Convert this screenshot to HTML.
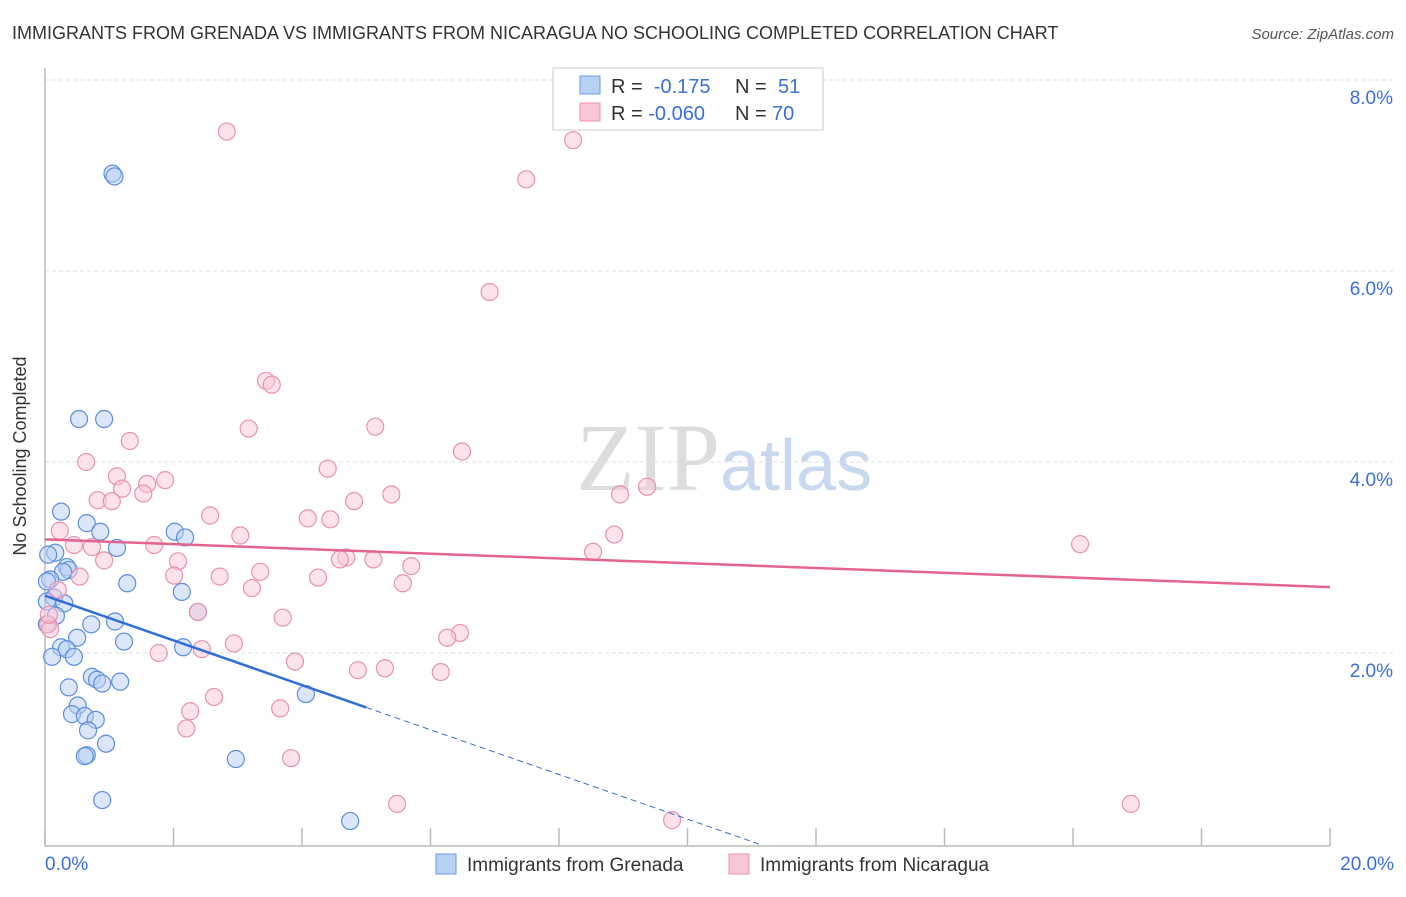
<!DOCTYPE html>
<html><head><meta charset="utf-8"><style>
body{margin:0;background:#fff;font-family:"Liberation Sans",sans-serif;}
</style></head><body>
<svg width="1406" height="892" xmlns="http://www.w3.org/2000/svg">
<text x="12" y="39" font-size="18" fill="#333">IMMIGRANTS FROM GRENADA VS IMMIGRANTS FROM NICARAGUA NO SCHOOLING COMPLETED CORRELATION CHART</text>
<text x="1394" y="39" font-size="15" fill="#555" font-style="italic" text-anchor="end">Source: ZipAtlas.com</text>
<text x="720" y="490" font-size="96" fill="#ddd" font-family="Liberation Serif,serif" text-anchor="end">ZIP</text>
<text x="720" y="490" font-size="72" fill="#c8d8ef">atlas</text>
<g id="grid"></g>
<line x1="45" y1="68" x2="45" y2="846" stroke="#bbb" stroke-width="1.5"/>
<line x1="45" y1="846" x2="1330" y2="846" stroke="#bbb" stroke-width="1.5"/>
<g id="xticks"></g>
<text x="26" y="456" font-size="18" fill="#333" text-anchor="middle" transform="rotate(-90 26 456)">No Schooling Completed</text>
<text x="45" y="870" font-size="19" fill="#3a6fd8">0.0%</text>
<text x="1394" y="870" font-size="19" fill="#3a6fd8" text-anchor="end">20.0%</text>
<g id="pts"></g>
<g id="lines"></g>
<g>
<rect x="553" y="68" width="270" height="62" fill="#fff" stroke="#ccc"/>
<rect x="580" y="76" width="20" height="18" fill="#b8d0f4" stroke="#6d9be0"/>
<rect x="580" y="103" width="20" height="18" fill="#f9c6d6" stroke="#e892ad"/>
<text x="611" y="93" font-size="20" fill="#333">R = <tspan fill="#3a6fd8">&#160;-0.175</tspan>   <tspan x="735">N = </tspan><tspan fill="#3a6fd8" x="778">51</tspan></text>
<text x="611" y="120" font-size="20" fill="#333">R = <tspan fill="#3a6fd8">-0.060</tspan>   <tspan x="735">N = </tspan><tspan fill="#3a6fd8" x="772">70</tspan></text>
</g>
<g>
<rect x="436" y="854" width="20" height="20" fill="#b8d0f4" stroke="#6d9be0"/>
<text x="467" y="871" font-size="19" fill="#333">Immigrants from Grenada</text>
<rect x="729" y="854" width="20" height="20" fill="#f9c6d6" stroke="#e892ad"/>
<text x="760" y="871" font-size="19" fill="#333">Immigrants from Nicaragua</text>
</g>
</svg>
<script>
const yTicks=[2,4,6,8];
const xTickVals=[0,2,4,6,8,10,12,14,16,18,20];
const grenadaX=[1.05,1.08,0.53,0.92,0.25,0.65,0.86,1.12,2.02,2.18,0.16,0.05,0.34,0.37,0.28,0.08,0.03,1.28,0.14,0.03,0.30,0.17,2.13,2.38,1.09,0.72,1.23,0.50,0.25,0.34,0.45,0.11,2.15,0.73,0.81,0.89,1.17,0.37,4.06,0.51,0.42,0.62,0.79,0.67,0.65,0.62,0.95,2.97,0.89,4.75,0.03];
const grenadaY=[7.02,6.99,4.45,4.45,3.48,3.36,3.27,3.10,3.27,3.21,3.05,3.03,2.90,2.87,2.85,2.77,2.75,2.73,2.58,2.54,2.52,2.39,2.64,2.43,2.33,2.30,2.12,2.16,2.06,2.04,1.96,1.96,2.06,1.75,1.72,1.68,1.70,1.64,1.57,1.45,1.36,1.34,1.30,1.19,0.93,0.92,1.05,0.89,0.46,0.24,2.30];
const nicaraguaX=[2.83,8.22,7.49,6.92,3.44,3.53,3.17,5.14,1.32,6.49,0.64,4.40,1.12,1.87,1.59,1.20,1.53,0.82,1.04,5.39,4.81,8.95,9.37,2.57,4.09,4.44,0.23,3.04,8.86,0.45,0.73,1.70,2.07,4.69,4.59,5.11,8.53,16.11,0.92,5.70,0.54,3.35,2.72,4.25,2.01,5.57,3.22,2.38,3.70,0.05,0.08,6.46,6.26,2.94,2.44,1.77,3.89,4.87,5.29,6.16,2.63,2.26,3.66,2.20,3.83,5.48,9.76,16.90,0.20,0.06];
const nicaraguaY=[7.46,7.37,6.96,5.78,4.85,4.81,4.35,4.37,4.22,4.11,4.00,3.93,3.85,3.81,3.77,3.72,3.67,3.60,3.59,3.66,3.59,3.66,3.74,3.44,3.41,3.40,3.28,3.23,3.24,3.13,3.11,3.13,2.96,3.00,2.98,2.98,3.06,3.14,2.97,2.91,2.80,2.85,2.80,2.79,2.81,2.73,2.68,2.43,2.37,2.30,2.25,2.21,2.16,2.10,2.04,2.00,1.91,1.82,1.84,1.80,1.54,1.39,1.42,1.21,0.90,0.42,0.25,0.42,2.66,2.40];
const grenadaTrend=[0,2.60,5.0,1.43];
const nicaraguaTrend=[0,3.19,20,2.69];
const NS="http://www.w3.org/2000/svg";
const X=v=>45+v*64.25, Y=v=>844-v*95.5;
function mk(tag,attrs,parent){const e=document.createElementNS(NS,tag);for(const k in attrs)e.setAttribute(k,attrs[k]);document.getElementById(parent).appendChild(e);return e;}
yTicks.forEach(t=>{
 const l=mk('line',{x1:45,x2:1394,y1:Y(t),y2:Y(t),stroke:'#ddd','stroke-dasharray':'4,3'},'grid');
 
 
 const tx=mk('text',{x:1393,y:Y(t)+24,'font-size':19,fill:'#3a6fd8','text-anchor':'end'},'grid');
 tx.textContent=t.toFixed(1)+'%';
 
 
});
xTickVals.forEach(t=>{
 const l=mk('line',{x1:X(t),x2:X(t),y1:828,y2:846,stroke:'#bbb','stroke-width':1.5},'xticks');
 
 
});
function pts(xs,ys,fill,stroke,name){xs.forEach((x,i)=>{
 const c=mk('circle',{cx:X(x),cy:Y(ys[i]),r:8.5,fill:fill,'fill-opacity':0.5,stroke:stroke,'stroke-width':1.2},'pts');
 
 
});}
pts(grenadaX,grenadaY,'#b8d0f4','#5b8de0','grenada-point');
pts(nicaraguaX,nicaraguaY,'#f9c6d6','#e892ad','nicaragua-point');
const g=grenadaTrend, slope=(g[3]-g[1])/(g[2]-g[0]);
const gl=mk('line',{x1:X(g[0]),y1:Y(g[1]),x2:X(g[2]),y2:Y(g[3]),stroke:'#2f6fd6','stroke-width':2.5},'lines');


const xe=(0-g[1])/slope;
const gd=mk('line',{x1:X(g[2]),y1:Y(g[3]),x2:X(xe),y2:Y(0),stroke:'#2f6fd6','stroke-width':1,'stroke-dasharray':'6,4'},'lines');


const n=nicaraguaTrend;
const nl=mk('line',{x1:X(n[0]),y1:Y(n[1]),x2:X(n[2]),y2:Y(n[3]),stroke:'#e5648f','stroke-width':2.5},'lines');


</script>
</body></html>
